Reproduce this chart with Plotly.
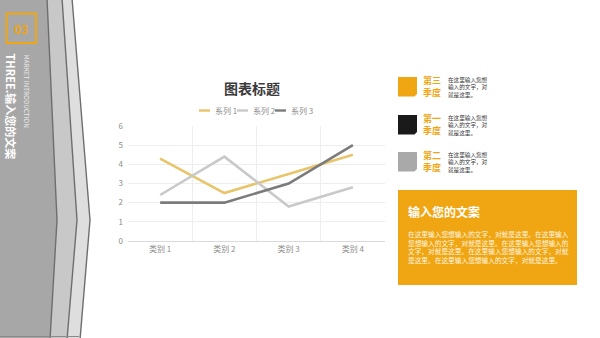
import plotly.graph_objects as go

# ---- data ----
categories = ["类别 1", "类别 2", "类别 3", "类别 4"]
series_names = ["系列 1", "系列 2", "系列 3"]
series1 = [4.3, 2.5, 3.5, 4.5]
series2 = [2.4, 4.4, 1.8, 2.8]
series3 = [2.0, 2.0, 3.0, 5.0]
series_colors = ["#e8c56b", "#c9c9c9", "#7b7b7b"]
y_ticks = [0, 1, 2, 3, 4, 5, 6]

chart_title = "图表标题"
section_no = "03"
section_title = "THREE.输入您的文案"
section_sub = "MARKET INTRODUCTION"
quarters = ["第三<br>季度", "第一<br>季度", "第二<br>季度"]
quarter_colors = ["#f0a512", "#1a1a1a", "#a9a9a9"]
quarter_text = ["在这里输入您想", "输入的文字，对", "就是这里。"]
box_title = "输入您的文案"
box_lines = [
    "在这里输入您想输入的文字，对就是这里。在这里输入",
    "您想输入的文字，对就是这里。在这里输入您想输入的",
    "文字，对就是这里。在这里输入您想输入的文字，对就",
    "是这里。在这里输入您想输入的文字，对就是这里。",
]

FONT = "Noto Sans CJK SC"
ORANGE = "#f0a512"
W, H = 600, 338
L, R, T, B = 128, 215, 126, 97
PW, PH = W - L - R, H - T - B


def X(px):
    return (px - L) / PW


def Y(py):
    return (H - B - py) / PH


def path(points):
    s = "M" + " L".join(f"{X(a):.5f},{Y(b):.5f}" for a, b in points) + " Z"
    return s


fig = go.Figure()
for name, vals, col in zip(series_names, [series1, series2, series3], series_colors):
    fig.add_trace(go.Scatter(x=categories, y=vals, mode="lines", name=name,
                             line=dict(color=col, width=2.6), showlegend=False,
                             hoverinfo="skip"))

shapes = []
annotations = []

# left decorative panel (three chevron bands)
bands = [
    ([(-2, -2), (72, -2), (90, 220), (80, 340), (-2, 340)], "#dedede"),
    ([(-2, -2), (62, -2), (77, 220), (67, 340), (-2, 340)], "#c8c8c8"),
    ([(-2, -2), (47, -2), (57, 220), (50, 340), (-2, 340)], "#a7a7a7"),
]
for pts, col in bands:
    shapes.append(dict(type="path", xref="paper", yref="paper", path=path(pts),
                       fillcolor=col, line=dict(color="#6e6e6e", width=1.4), layer="above"))
shapes.append(dict(type="line", xref="paper", yref="paper", x0=X(0), x1=X(79),
                   y0=Y(336.5), y1=Y(336.5), line=dict(color="#8a8a8a", width=1), layer="above"))

# "03" square
shapes.append(dict(type="rect", xref="paper", yref="paper",
                   x0=X(6.5), x1=X(36), y0=Y(43), y1=Y(13.5),
                   line=dict(color=ORANGE, width=2), fillcolor="rgba(0,0,0,0)", layer="above"))
annotations.append(dict(x=X(21.3), y=Y(28.5), xref="paper", yref="paper", text="<b>" + section_no + "</b>",
                        showarrow=False, font=dict(family=FONT, size=12, color=ORANGE),
                        xanchor="center", yanchor="middle"))
annotations.append(dict(x=X(10.5), y=Y(51), xref="paper", yref="paper",
                        text="<b>" + section_title + "</b>", textangle=90, showarrow=False,
                        font=dict(family=FONT, size=11, color="#ffffff"),
                        xanchor="center", yanchor="top"))
annotations.append(dict(x=X(26), y=Y(52), xref="paper", yref="paper",
                        text=section_sub, textangle=90, showarrow=False,
                        font=dict(family=FONT, size=6.4, color="#ececec"),
                        xanchor="center", yanchor="top"))

# chart title
annotations.append(dict(x=X(252), y=Y(88), xref="paper", yref="paper",
                        text="<b>" + chart_title + "</b>", showarrow=False,
                        font=dict(family=FONT, size=14, color="#3a3a3a"),
                        xanchor="center", yanchor="middle"))

# custom legend
for i, (name, col) in enumerate(zip(series_names, series_colors)):
    x0 = 199 + i * 38
    shapes.append(dict(type="line", xref="paper", yref="paper",
                       x0=X(x0), x1=X(x0 + 11), y0=Y(110.5), y1=Y(110.5),
                       line=dict(color=col, width=2.4)))
    annotations.append(dict(x=X(x0 + 14), y=Y(110.5), xref="paper", yref="paper",
                            text=name, showarrow=False,
                            font=dict(family=FONT, size=8, color="#8c8c8c"),
                            xanchor="left", yanchor="middle"))

# right quarter items
q_tops = [77, 115, 152]
for qi, (qt, qc, top) in enumerate(zip(quarters, quarter_colors, q_tops)):
    x0, x1, y0, y1 = 398, 417, top, top + 19.5
    pts = [(x0, y0), (x1, y0), (x1, y1 - 2.5), (x1 - 2.5, y1), (x0, y1)]
    shapes.append(dict(type="path", xref="paper", yref="paper", path=path(pts),
                       fillcolor=qc, line=dict(width=0)))
    annotations.append(dict(x=X(431.5), y=Y(top + 9.5), xref="paper", yref="paper",
                            text="<b>" + qt + "</b>", showarrow=False,
                            font=dict(family=FONT, size=9, color=ORANGE),
                            xanchor="center", yanchor="middle"))
    annotations.append(dict(x=X(446), y=Y(top + 10), xref="paper", yref="paper",
                            text="<br>".join(quarter_text), showarrow=False, align="left",
                            font=dict(family=FONT, size=5.6, color="#333333"),
                            xanchor="left", yanchor="middle"))

# orange text box
shapes.append(dict(type="rect", xref="paper", yref="paper",
                   x0=X(398), x1=X(577), y0=Y(285), y1=Y(190),
                   fillcolor=ORANGE, line=dict(width=0)))
annotations.append(dict(x=X(406), y=Y(211), xref="paper", yref="paper",
                        text="<b>" + box_title + "</b>", showarrow=False,
                        font=dict(family=FONT, size=12, color="#ffffff"),
                        xanchor="left", yanchor="middle"))
annotations.append(dict(x=X(406), y=Y(246.8), xref="paper", yref="paper",
                        text="<br>".join(box_lines), showarrow=False, align="left",
                        font=dict(family=FONT, size=6.7, color="#fff6e0"),
                        xanchor="left", yanchor="middle"))

fig.update_layout(
    width=W, height=H,
    margin=dict(l=L, r=R, t=T, b=B, pad=0),
    paper_bgcolor="#ffffff", plot_bgcolor="#ffffff",
    font=dict(family=FONT),
    shapes=shapes, annotations=annotations,
    showlegend=False,
    xaxis=dict(type="category", categoryorder="array", categoryarray=categories,
               range=[-0.5, 3.5], tickson="boundaries", showgrid=True, gridcolor="#eeeeee",
               gridwidth=1, ticks="", showline=True, linecolor="#dadada", linewidth=1,
               tickfont=dict(family=FONT, size=8, color="#8c8c8c"), fixedrange=True),
    yaxis=dict(range=[0, 6], tickvals=y_ticks, showgrid=True, gridcolor="#eeeeee",
               gridwidth=1, zeroline=False, ticks="", showline=False,
               tickfont=dict(family=FONT, size=8, color="#8c8c8c"), ticklabelstandoff=4,
               fixedrange=True),
)

fig.write_html("out.html")
